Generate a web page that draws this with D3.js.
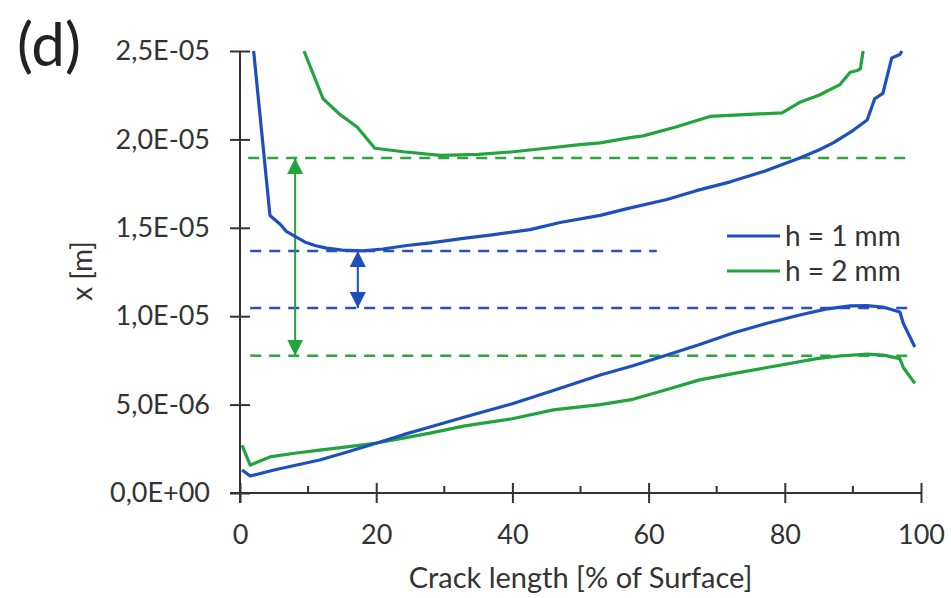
<!DOCTYPE html>
<html>
<head>
<meta charset="utf-8">
<script src="https://cdn.jsdelivr.net/npm/d3@7"></script>
<style>
  body { margin: 0; background: #fff; }
  svg text { font-family: Lato, "Open Sans", sans-serif; fill: #333; }
</style>
</head>
<body>
<svg id="chart" width="951" height="598"></svg>
<script>
// values in units of 1E-06 m, x in % of surface
var h1Upper = [[2.0,25],[4.4,15.7],[5.9,15.2],[6.8,14.8],[7.7,14.6],[9.5,14.2],[11,14.0],[12.7,13.85],[15,13.74],[18,13.69],[21,13.8],[24.5,14.0],[28,14.15],[32.8,14.4],[37,14.6],[42.6,14.9],[47,15.3],[52.9,15.7],[57,16.1],[62.7,16.6],[67,17.1],[72,17.6],[77,18.2],[82.2,18.95],[85,19.4],[87.1,19.8],[90,20.5],[92.1,21.1],[93.2,22.3],[94.4,22.6],[95.7,24.6],[96.9,24.8],[97.2,25]];
var h2Upper = [[9.4,25],[12.2,22.3],[14.7,21.4],[17.2,20.7],[19.8,19.5],[24,19.3],[29.4,19.1],[35,19.15],[40.1,19.3],[45,19.5],[49.9,19.7],[52.9,19.8],[57.3,20.1],[59.2,20.2],[64,20.7],[69,21.3],[74,21.4],[79.6,21.5],[82.2,22.1],[85,22.5],[88.1,23.1],[89.6,23.8],[90.7,23.9],[91.1,24.0],[91.5,25]];
var h1Lower = [[0.3,1.3],[1.5,0.96],[5,1.3],[11.7,1.87],[16,2.35],[20.1,2.83],[24,3.3],[27.9,3.73],[33,4.3],[40,5.05],[46,5.8],[52.9,6.67],[57.7,7.2],[62.7,7.8],[67.5,8.4],[72.4,9.05],[77.4,9.6],[82.2,10.07],[86,10.4],[89.6,10.58],[92,10.6],[94.4,10.52],[96.9,10.24],[97.4,9.6],[99.1,8.26]];
var h2Lower = [[0.3,2.7],[1.5,1.58],[4.4,2.04],[8,2.25],[11.7,2.43],[16,2.62],[20.1,2.83],[24,3.1],[27.9,3.39],[33,3.8],[40,4.2],[46,4.7],[52.9,5.0],[57.7,5.3],[62.7,5.85],[67.5,6.4],[72.4,6.75],[77.4,7.1],[84.7,7.6],[88,7.75],[92.1,7.86],[94.5,7.8],[96.9,7.6],[97.4,7.1],[99.1,6.2]];

// dashed reference levels: [value, xStart, xEnd, series]
var refLines = [[18.95,1.2,98.5,"h2"],[13.69,1.5,61.2,"h1"],[10.46,1.5,98.5,"h1"],[7.77,1.5,98.5,"h2"]];
// double arrows: [x, from, to, series]
var arrows = [[8.1,18.95,7.77,"h2"],[17.3,13.69,10.46,"h1"]];

var xTicks = [0,20,40,60,80,100];
var xMinor = [10,30,50,70,90];
var yTicks = [0,5,10,15,20,25];
var legendItems = [["h1","h = 1 mm"],["h2","h = 2 mm"]];

var colors = {h1: "#1d4fbf", h2: "#22a33c"};
var dashColors = {h1: "#2f4fb5", h2: "#2ea43f"};

var svg = d3.select("#chart");
var x = d3.scaleLinear().domain([0,100]).range([240,921]);
var y = d3.scaleLinear().domain([0,25]).range([493,51]);

function fmt(v) {
  var s = (v*1e-6).toExponential(1).split("e");
  var e = +s[1];
  if (v === 0) e = 0;
  var mant = (v === 0 ? "0.0" : s[0]).replace(".", ",");
  return mant + "E" + (e < 0 ? "-" : "+") + d3.format("02")(Math.abs(e));
}

// axes
var yAxis = svg.append("g").attr("transform","translate(" + x(0) + ",0)")
  .call(d3.axisLeft(y).tickValues(yTicks).tickSize(10).tickPadding(20).tickFormat(fmt));
yAxis.select(".domain").remove();
yAxis.selectAll(".tick line").attr("x1",-10).attr("x2",10).attr("stroke","#333").attr("stroke-width",2);
yAxis.selectAll("text").style("font-size","27px");

var xAxis = svg.append("g").attr("transform","translate(0," + y(0) + ")")
  .call(d3.axisBottom(x).tickValues(xTicks).tickSize(10).tickPadding(22));
xAxis.select(".domain").remove();
xAxis.selectAll(".tick line").attr("y1",-10).attr("y2",10).attr("stroke","#333").attr("stroke-width",2);
xAxis.selectAll("text").style("font-size","27px");

svg.append("g").selectAll("line").data(xMinor).enter().append("line")
  .attr("x1",function(d){return x(d);}).attr("x2",function(d){return x(d);})
  .attr("y1",y(0)-7).attr("y2",y(0))
  .attr("stroke","#333").attr("stroke-width",2);

svg.append("line").attr("x1",x(0)).attr("x2",x(0)).attr("y1",y(25)).attr("y2",y(0)+10)
  .attr("stroke","#333").attr("stroke-width",2);
svg.append("line").attr("x1",x(0)-10).attr("x2",x(100)).attr("y1",y(0)).attr("y2",y(0))
  .attr("stroke","#333").attr("stroke-width",2);

// markers
var defs = svg.append("defs");
["h1","h2"].forEach(function(k){
  defs.append("marker").attr("id","arr-" + k).attr("viewBox","0 0 10 10")
    .attr("refX",10).attr("refY",5).attr("markerWidth",16).attr("markerHeight",16)
    .attr("markerUnits","userSpaceOnUse").attr("orient","auto-start-reverse")
    .append("path").attr("d","M0,0L10,5L0,10Z").attr("fill",colors[k]);
});

// dashed lines
svg.append("g").selectAll("line").data(refLines).enter().append("line")
  .attr("x1",function(d){return x(d[1]);}).attr("x2",function(d){return x(d[2]);})
  .attr("y1",function(d){return y(d[0]);}).attr("y2",function(d){return y(d[0]);})
  .attr("stroke",function(d){return dashColors[d[3]];})
  .attr("stroke-width",2.5).attr("stroke-dasharray","11,8");

svg.append("g").selectAll("line").data(arrows).enter().append("line")
  .attr("x1",function(d){return x(d[0]);}).attr("x2",function(d){return x(d[0]);})
  .attr("y1",function(d){return y(d[1]);}).attr("y2",function(d){return y(d[2]);})
  .attr("stroke",function(d){return colors[d[3]];}).attr("stroke-width",2)
  .attr("marker-start",function(d){return "url(#arr-" + d[3] + ")";})
  .attr("marker-end",function(d){return "url(#arr-" + d[3] + ")";});

// curves
var line = d3.line().x(function(d){return x(d[0]);}).y(function(d){return y(d[1]);});
var curves = [[h2Upper,"h2"],[h2Lower,"h2"],[h1Upper,"h1"],[h1Lower,"h1"]];
svg.append("g").selectAll("path").data(curves).enter().append("path")
  .attr("d",function(d){return line(d[0]);})
  .attr("fill","none")
  .attr("stroke",function(d){return colors[d[1]];})
  .attr("stroke-width",3.2).attr("stroke-linejoin","round");

// legend
var lg = svg.append("g").selectAll("g").data(legendItems).enter().append("g")
  .attr("transform",function(d,i){return "translate(727," + (236 + i*35) + ")";});
lg.append("line").attr("x1",0).attr("x2",53).attr("y1",0).attr("y2",0)
  .attr("stroke",function(d){return colors[d[0]];}).attr("stroke-width",3.2);
lg.append("text").attr("x",58).attr("dy","0.35em").style("font-size","28px")
  .text(function(d){return d[1];});

// titles
svg.append("text").attr("x",x(50)).attr("y",588).attr("text-anchor","middle")
  .style("font-size","29px").text("Crack length [% of Surface]");
svg.append("text").attr("transform","translate(92,271) rotate(-90)").attr("text-anchor","middle")
  .style("font-size","28px").text("x [m]");
svg.append("text").attr("x",17).attr("y",66).style("font-size","60px").style("fill","#222").text("(d)");
</script>
</body>
</html>
